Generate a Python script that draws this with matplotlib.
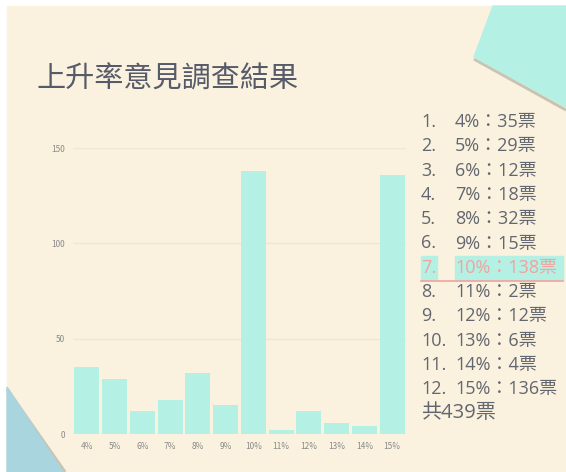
import matplotlib
matplotlib.use('Agg')
import matplotlib.pyplot as plt
from matplotlib.patches import Polygon, Rectangle

plt.rcParams['font.family'] = ['Noto Sans CJK TC', 'DejaVu Sans']
LIST_FONT = ['Open Sans', 'Noto Sans CJK TC']

# data
rates = ['4%', '5%', '6%', '7%', '8%', '9%', '10%', '11%', '12%', '13%', '14%', '15%']
votes = [35, 29, 12, 18, 32, 15, 138, 2, 12, 6, 4, 136]
y_ticks = [0, 50, 100, 150]
title = '上升率意見調查結果'
highlight = 6  # index of the highlighted row (10%)

W, H = 566, 472
CREAM = '#FAF2DF'
TEAL = '#B5F0E4'
BLUE = '#A9D5DF'
TEXT = '#62666F'

fig = plt.figure(figsize=(W / 100, H / 100), dpi=100, facecolor='white')

# background layer in pixel coordinates
bg = fig.add_axes([0, 0, 1, 1])
bg.set_xlim(0, W)
bg.set_ylim(H, 0)
bg.axis('off')
bg.add_patch(Rectangle((7, 6), W - 7, H - 6, color=CREAM, zorder=0))

# top-right teal shape with a soft shadow
bg.plot([474, 566], [59, 110], color='#8f8a80', lw=2.2, alpha=0.45, zorder=1,
        solid_capstyle='butt')
bg.add_patch(Polygon([(493, 6), (566, 6), (566, 107), (474, 57)],
                     closed=True, color=TEAL, zorder=2))

# bottom-left blue shape with a soft shadow
bg.plot([7, 65], [389, 472], color='#8f8a80', lw=2.2, alpha=0.45, zorder=1,
        solid_capstyle='butt')
bg.add_patch(Polygon([(7, 387), (63, 472), (7, 472)],
                     closed=True, color=BLUE, zorder=2))

# title
bg.text(37, 80, title, fontsize=21, color='#575B69', va='center', ha='left')

# list on the right
y0, dy = 122, 24.3
for i, (r, v) in enumerate(zip(rates, votes)):
    y = y0 + i * dy
    col = TEXT
    if i == highlight:
        col = '#F2A39C'
        bg.add_patch(Rectangle((421, y - 12), 16, 24, color=TEAL, zorder=2))
        bg.add_patch(Rectangle((455, y - 12), 108, 24, color=TEAL, zorder=2))
        bg.plot([421, 563], [y + 13, y + 13], color='#F2A39C', lw=1.2, zorder=3)
    bg.text(421, y, f'{i + 1}.', fontsize=13, color=col, va='center', ha='left',
            family=LIST_FONT, zorder=4)
    bg.text(455, y, f'{r}：{v}票', fontsize=13, color=col, va='center', ha='left',
            family=LIST_FONT, zorder=4)
bg.text(421, y0 + len(rates) * dy - 1, f'共{sum(votes)}票', fontsize=14.5, color=TEXT,
        va='center', ha='left', family=LIST_FONT, zorder=4)

# bar chart
ax = fig.add_axes([73 / W, (H - 434) / H, (406 - 73) / W, (434 - 148) / H])
ax.set_facecolor('none')
ax.bar(range(len(rates)), votes, width=0.9, color=TEAL, zorder=2)
ax.set_xlim(-0.5, len(rates) - 0.5)
ax.set_ylim(0, 150)
ax.set_yticks(y_ticks)
ax.set_xticks(range(len(rates)))
ax.set_xticklabels(rates)
ax.tick_params(axis='both', length=0, labelsize=6, labelcolor='#8A8A8A')
ax.tick_params(axis='x', pad=6)
ax.tick_params(axis='y', pad=6)
ax.grid(axis='y', color='#EFE7D3', lw=1, zorder=0)
for s in ax.spines.values():
    s.set_visible(False)

fig.savefig('out.png', dpi=100, facecolor='white')
